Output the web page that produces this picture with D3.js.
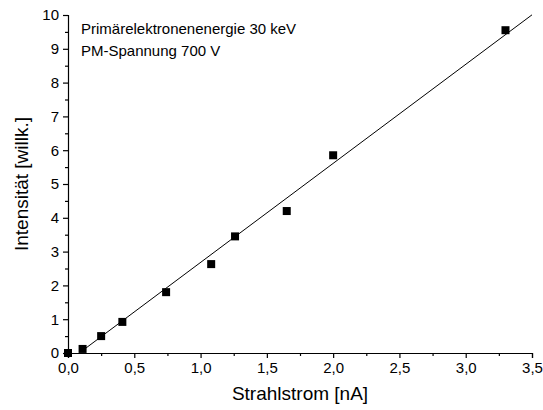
<!DOCTYPE html>
<html>
<head>
<meta charset="utf-8">
<script src="https://cdn.jsdelivr.net/npm/d3@7"></script>
<style>
  html, body { margin: 0; padding: 0; background: #fff; }
  svg text { font-family: Arial, "Liberation Sans", sans-serif; fill: #000; }
</style>
</head>
<body>
<svg id="chart" width="543" height="410"></svg>
<script>
// Measured beam current (nA) and detected intensity (arb. units)
const strahlstrom = [0, 0.11, 0.25, 0.41, 0.74, 1.08, 1.26, 1.65, 2.0, 3.3];
const intensitaet = [0, 0.12, 0.50, 0.92, 1.80, 2.63, 3.45, 4.20, 5.85, 9.55];

// Linear fit drawn across the plot
const fitRange = [0.1, 3.5];
const fitSlope = 2.93;
const fitIntercept = -0.25;

// Axis ticks
const xTicks = [0, 0.5, 1.0, 1.5, 2.0, 2.5, 3.0, 3.5];
const xMinor = [0.25, 0.75, 1.25, 1.75, 2.25, 2.75, 3.25];
const yTicks = [0, 1, 2, 3, 4, 5, 6, 7, 8, 9, 10];
const yMinor = [0.5, 1.5, 2.5, 3.5, 4.5, 5.5, 6.5, 7.5, 8.5, 9.5];

const notes = ["Primärelektronenenergie 30 keV", "PM-Spannung 700 V"];
const xTitle = "Strahlstrom [nA]";
const yTitle = "Intensität [willk.]";

const svg = d3.select("#chart");
const plotLeft = 68, plotRight = 532, plotTop = 15, plotBottom = 353;

const x = d3.scaleLinear().domain([0, 3.5]).range([plotLeft, plotRight]);
const y = d3.scaleLinear().domain([0, 10]).range([plotBottom, plotTop]);
const fmt = d => d3.format(".1f")(d).replace(".", ",");

// X axis (major + minor ticks)
const gx = svg.append("g").attr("transform", `translate(0,${plotBottom})`);
gx.call(d3.axisBottom(x).tickValues(xTicks).tickFormat(fmt).tickSize(5).tickPadding(4));
gx.append("g").call(d3.axisBottom(x).tickValues(xMinor).tickFormat("").tickSize(3))
  .select(".domain").remove();

// Y axis (major + minor ticks)
const gy = svg.append("g").attr("transform", `translate(${plotLeft},0)`);
gy.call(d3.axisLeft(y).tickValues(yTicks).tickFormat(d3.format("d")).tickSize(5).tickPadding(4));
gy.append("g").call(d3.axisLeft(y).tickValues(yMinor).tickFormat("").tickSize(3))
  .select(".domain").remove();

svg.selectAll(".domain").attr("stroke", "#000").attr("stroke-width", 1.2);
svg.selectAll(".tick line").attr("stroke", "#000").attr("stroke-width", 1.2);
svg.selectAll(".tick text").attr("font-size", 15).attr("font-family", "Arial, 'Liberation Sans', sans-serif");

// Fit line
svg.append("line")
  .attr("x1", x(fitRange[0])).attr("y1", y(fitSlope * fitRange[0] + fitIntercept))
  .attr("x2", x(fitRange[1])).attr("y2", y(fitSlope * fitRange[1] + fitIntercept))
  .attr("stroke", "#000").attr("stroke-width", 1);

// Data markers
const pts = strahlstrom.map((v, i) => [v, intensitaet[i]]);
const s = 8;
svg.append("g").selectAll("rect").data(pts).join("rect")
  .attr("x", d => x(d[0]) - s / 2).attr("y", d => y(d[1]) - s / 2)
  .attr("width", s).attr("height", s).attr("fill", "#000");

// Annotation
svg.append("g").selectAll("text").data(notes).join("text")
  .attr("x", 81).attr("y", (d, i) => 34 + i * 22)
  .attr("font-size", 15).text(d => d);

// Axis titles
svg.append("text").attr("x", (plotLeft + plotRight) / 2).attr("y", 400)
  .attr("text-anchor", "middle").attr("font-size", 19).text(xTitle);
svg.append("text").attr("transform", `translate(28,${(plotTop + plotBottom) / 2}) rotate(-90)`)
  .attr("text-anchor", "middle").attr("font-size", 19).text(yTitle);
</script>
</body>
</html>
